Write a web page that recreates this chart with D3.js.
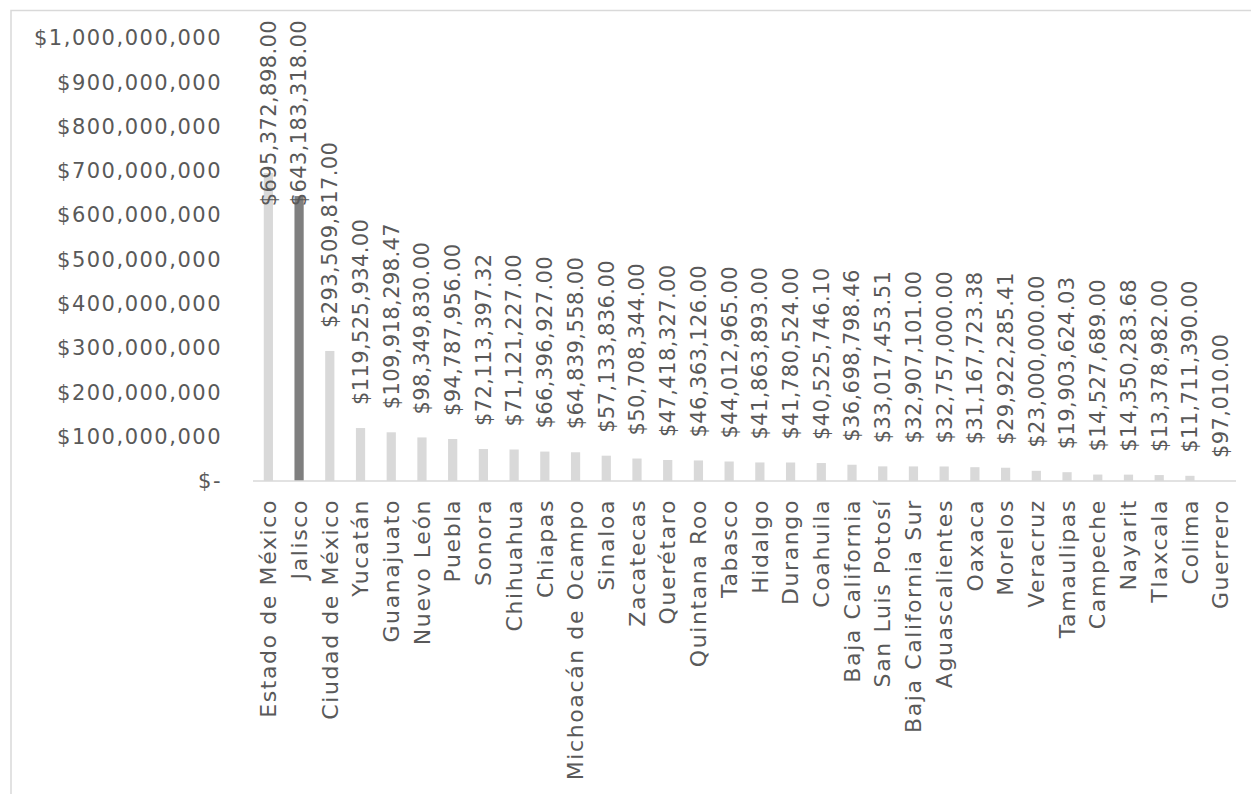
<!DOCTYPE html>
<html lang="es">
<head>
<meta charset="utf-8">
<title>Monto por estado</title>
<script src="https://cdn.jsdelivr.net/npm/d3@7"></script>
<style>
  html, body { margin: 0; padding: 0; background: #ffffff; }
  svg { display: block; }
  text { font-family: "DejaVu Sans", sans-serif; fill: #595959; }
</style>
</head>
<body>
<svg id="chart" width="1251" height="794"></svg>
<script>
// Estados, ordenados de mayor a menor monto
const estados = [
  "Estado de México", "Jalisco", "Ciudad de México", "Yucatán", "Guanajuato",
  "Nuevo León", "Puebla", "Sonora", "Chihuahua", "Chiapas",
  "Michoacán de Ocampo", "Sinaloa", "Zacatecas", "Querétaro", "Quintana Roo",
  "Tabasco", "Hidalgo", "Durango", "Coahuila", "Baja California",
  "San Luis Potosí", "Baja California Sur", "Aguascalientes", "Oaxaca", "Morelos",
  "Veracruz", "Tamaulipas", "Campeche", "Nayarit", "Tlaxcala",
  "Colima", "Guerrero"
];

// Monto en pesos por estado
const montos = [
  695372898.00, 643183318.00, 293509817.00, 119525934.00, 109918298.47,
  98349830.00, 94787956.00, 72113397.32, 71121227.00, 66396927.00,
  64839558.00, 57133836.00, 50708344.00, 47418327.00, 46363126.00,
  44012965.00, 41863893.00, 41780524.00, 40525746.10, 36698798.46,
  33017453.51, 32907101.00, 32757000.00, 31167723.38, 29922285.41,
  23000000.00, 19903624.03, 14527689.00, 14350283.68, 13378982.00,
  11711390.00, 97010.00
];

// Marcas del eje vertical
const ticksY = [0, 100000000, 200000000, 300000000, 400000000, 500000000,
                600000000, 700000000, 800000000, 900000000, 1000000000];

// Estado resaltado
const destacado = "Jalisco";

const datos = estados.map((e, i) => ({ estado: e, monto: montos[i] }));

const svg = d3.select("#chart");

// Marco exterior
svg.append("rect")
  .attr("x", 11).attr("y", 10.5)
  .attr("width", 1400).attr("height", 1000)
  .attr("fill", "none")
  .attr("stroke", "#d9d9d9")
  .attr("stroke-width", 1.5);

const x = d3.scaleBand()
  .domain(estados)
  .range([253, 1236])
  .paddingInner(0.7)
  .paddingOuter(0.35);

const y = d3.scaleLinear()
  .domain([0, 1000000000])
  .range([481, 38]);

const fmtEje = d => d === 0 ? "$-" : d3.format("$,.0f")(d);
const fmtValor = d3.format("$,.2f");

// Eje vertical (solo etiquetas)
const ejeY = svg.append("g")
  .attr("transform", "translate(222,0)")
  .call(d3.axisLeft(y).tickValues(ticksY).tickFormat(fmtEje).tickSize(0).tickPadding(0));
ejeY.select(".domain").remove();
ejeY.selectAll("text")
  .attr("font-size", 21)
  .attr("letter-spacing", 1.5)
  .attr("fill", "#595959")
  .style("font-family", "'DejaVu Sans', sans-serif");

// Barras
svg.append("g")
  .selectAll("rect")
  .data(datos)
  .join("rect")
  .attr("x", d => x(d.estado))
  .attr("width", x.bandwidth())
  .attr("y", d => y(d.monto))
  .attr("height", d => y(0) - y(d.monto))
  .attr("fill", d => d.estado === destacado ? "#7f7f7f" : "#d9d9d9");

// Línea base
svg.append("line")
  .attr("x1", 253).attr("x2", 1236)
  .attr("y1", 481).attr("y2", 481)
  .attr("stroke", "#d9d9d9")
  .attr("stroke-width", 1.5);

// Eje horizontal (etiquetas de estado giradas)
const ejeX = svg.append("g")
  .attr("transform", "translate(0,481)")
  .call(d3.axisBottom(x).tickSize(0).tickPadding(0));
ejeX.select(".domain").remove();
ejeX.selectAll("text")
  .attr("font-size", 22)
  .attr("letter-spacing", 1.6)
  .attr("fill", "#595959")
  .style("font-family", "'DejaVu Sans', sans-serif")
  .attr("text-anchor", "end")
  .attr("transform", "translate(0,18) rotate(-90)")
  .attr("x", 0)
  .attr("y", 0)
  .attr("dy", "0.35em");

// Etiquetas de valor sobre cada barra, contenidas dentro del marco
const etiquetas = svg.append("g")
  .selectAll("text")
  .data(datos)
  .join("text")
  .attr("font-size", 21)
  .attr("letter-spacing", 0.4)
  .attr("text-anchor", "start")
  .attr("dy", "0.35em")
  .text(d => fmtValor(d.monto));

etiquetas.each(function(d) {
  const largo = this.getComputedTextLength();
  const cx = x(d.estado) + x.bandwidth() / 2;
  const inicio = Math.max(y(d.monto) - 23, 20 + largo);
  d3.select(this).attr("transform", `translate(${cx},${inicio}) rotate(-90)`);
});
</script>
</body>
</html>
